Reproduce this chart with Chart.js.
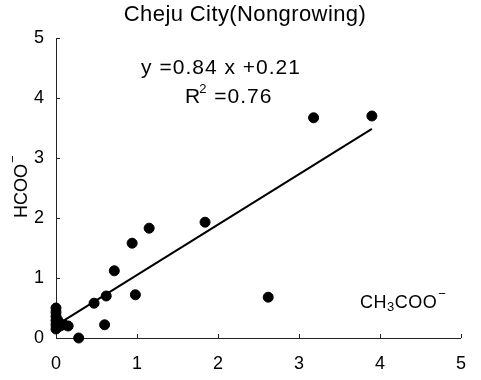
<!DOCTYPE html>
<html>
<head>
<meta charset="utf-8">
<script src="https://cdn.jsdelivr.net/npm/chart.js@4"></script>
<style>
  html, body { margin: 0; padding: 0; background: #fff; }
  #wrap { width: 481px; height: 380px; }
</style>
</head>
<body>
<div id="wrap"><canvas id="c" width="481" height="380"></canvas></div>
<script>
// Acetate (x) vs formate (y), Cheju City, nongrowing season
const acetate = [0, 0, 0, 0, 0, 0, 0.05, 0.1, 0.15, 0.02, 0.28, 0.60, 0.47, 0.62, 0.72, 0.98, 0.94, 1.15, 1.84, 2.62, 3.18, 3.90];
const formate = [0.5, 0.43, 0.36, 0.29, 0.22, 0.15, 0.20, 0.22, 0.20, 0.30, 0.0, 0.22, 0.58, 0.70, 1.12, 0.72, 1.58, 1.83, 1.93, 0.68, 3.67, 3.70];
const fitSlope = 0.84;
const fitIntercept = 0.21;
const fitR2 = 0.76;
const fitRange = [0, 3.9];
const axisTicks = [0, 1, 2, 3, 4, 5];

const FONT = '"Liberation Sans", Arial, sans-serif';

const points = acetate.map((x, i) => ({ x, y: formate[i] }));
const fitLine = fitRange.map(x => ({ x, y: fitSlope * x + fitIntercept }));

// small inward tick marks and the annotation text
const decor = {
  id: 'decor',
  afterDraw(chart) {
    const ctx = chart.ctx;
    const xs = chart.scales.x, ys = chart.scales.y;
    const area = chart.chartArea;
    ctx.save();
    ctx.strokeStyle = '#222';
    ctx.lineWidth = 1;
    ctx.beginPath();
    axisTicks.forEach(v => {
      const py = Math.round(ys.getPixelForValue(v)) + 0.5;
      ctx.moveTo(area.left, py); ctx.lineTo(area.left + 4, py);
      const px = Math.round(xs.getPixelForValue(v)) + 0.5;
      ctx.moveTo(px, area.bottom); ctx.lineTo(px, area.bottom - 4);
    });
    ctx.stroke();

    ctx.fillStyle = '#000';
    ctx.textBaseline = 'middle';
    ctx.textAlign = 'center';
    ctx.letterSpacing = '0.4px';
    ctx.font = '22px ' + FONT;
    ctx.fillText('Cheju City(Nongrowing)', 245, 15);

    ctx.letterSpacing = '1px';
    ctx.font = '21px ' + FONT;
    ctx.fillText('y =' + fitSlope.toFixed(2) + ' x +' + fitIntercept.toFixed(2), 221, 68);
    // R^2 line
    ctx.textAlign = 'left';
    let x0 = 185;
    ctx.fillText('R', x0, 97);
    let w = ctx.measureText('R').width;
    ctx.font = '13px ' + FONT;
    ctx.fillText('2', x0 + w - 2, 89);
    let w2 = ctx.measureText('2').width;
    ctx.font = '21px ' + FONT;
    ctx.fillText(' =' + fitR2.toFixed(2), x0 + w + w2 - 2, 97);

    // x-axis title inside plot
    ctx.letterSpacing = '0.5px';
    ctx.font = '18px ' + FONT;
    let cx = 360;
    ctx.fillText('CH', cx, 303);
    cx += ctx.measureText('CH').width;
    ctx.font = '13px ' + FONT;
    ctx.fillText('3', cx, 307);
    cx += ctx.measureText('3').width;
    ctx.font = '18px ' + FONT;
    ctx.fillText('COO', cx, 303);
    cx += ctx.measureText('COO').width + 1;
    ctx.font = '13px ' + FONT;
    ctx.fillText('\u2212', cx, 294);

    // y-axis title, rotated
    ctx.letterSpacing = '0px';
    ctx.translate(22, 187);
    ctx.rotate(-Math.PI / 2);
    ctx.font = '18px ' + FONT;
    ctx.textAlign = 'left';
    const t = 'HCOO';
    const tw = ctx.measureText(t).width;
    ctx.fillText(t, -tw / 2 - 4, 0);
    ctx.font = '13px ' + FONT;
    ctx.fillText('\u2212', tw / 2 - 3, -9);
    ctx.restore();
  }
};

new Chart(document.getElementById('c'), {
  type: 'scatter',
  data: {
    datasets: [
      {
        data: points,
        backgroundColor: '#000',
        borderColor: '#000',
        pointRadius: 5,
        pointHoverRadius: 5,
        clip: false
      },
      {
        type: 'line',
        data: fitLine,
        borderColor: '#000',
        borderWidth: 2,
        pointRadius: 0,
        fill: false,
        clip: false
      }
    ]
  },
  options: {
    responsive: false,
    animation: false,
    layout: { padding: { left: 0, top: 38, right: 11, bottom: 0 } },
    plugins: { legend: { display: false }, tooltip: { enabled: false }, title: { display: false } },
    scales: {
      x: {
        type: 'linear', min: 0, max: 5,
        afterFit: s => { s.height = 42; },
        afterBuildTicks: s => { s.ticks = axisTicks.map(v => ({ value: v })); },
        grid: { display: true, drawOnChartArea: false, drawTicks: false },
        border: { display: true, color: '#222', width: 1 },
        ticks: { color: '#000', font: { family: FONT, size: 18 }, padding: 15, maxRotation: 0 }
      },
      y: {
        type: 'linear', min: 0, max: 5,
        afterFit: s => { s.width = 56; },
        afterBuildTicks: s => { s.ticks = axisTicks.map(v => ({ value: v })); },
        grid: { display: true, drawOnChartArea: false, drawTicks: false },
        border: { display: true, color: '#222', width: 1 },
        ticks: { color: '#000', font: { family: FONT, size: 18 }, padding: 12 }
      }
    }
  },
  plugins: [decor]
});
</script>
</body>
</html>
